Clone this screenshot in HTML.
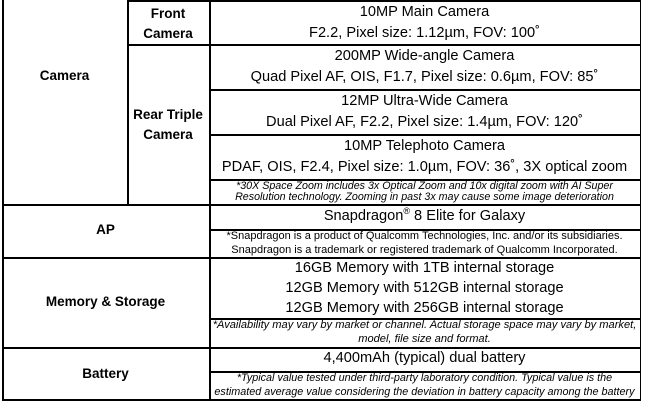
<!DOCTYPE html>
<html><head><meta charset="utf-8"><style>
body{margin:0;width:649px;height:409px;background:#fff;position:relative;overflow:hidden;font-family:"Liberation Sans",Arial,sans-serif;color:#000}
.h{position:absolute;height:1.5px;background:#000}
.v{position:absolute;width:1.5px;background:#000}
.t{position:absolute;text-align:center;white-space:nowrap}
.m{font-size:14.6px}
.b{font-size:13.5px;font-weight:bold}
.n{font-style:italic}
</style></head><body>
<div class="h" style="left:127px;top:0px;width:514px"></div>
<div class="h" style="left:127px;top:44px;width:514px"></div>
<div class="h" style="left:209px;top:89px;width:432px"></div>
<div class="h" style="left:209px;top:134px;width:432px"></div>
<div class="h" style="left:209px;top:179px;width:432px"></div>
<div class="h" style="left:2px;top:204px;width:639px"></div>
<div class="h" style="left:209px;top:229px;width:432px"></div>
<div class="h" style="left:2px;top:257px;width:639px"></div>
<div class="h" style="left:209px;top:318px;width:432px"></div>
<div class="h" style="left:2px;top:347px;width:639px"></div>
<div class="h" style="left:209px;top:371px;width:432px"></div>
<div class="h" style="left:2px;top:399px;width:639px"></div>
<div class="v" style="left:2px;top:0;height:400px"></div>
<div class="v" style="left:127px;top:0;height:205px"></div>
<div class="v" style="left:209px;top:0;height:400px"></div>
<div class="v" style="left:639.5px;top:0;height:400px"></div>
<div class="t b" style="left:2px;width:125px;top:68px">Camera</div>
<div class="t b" style="left:127px;width:82px;top:4px;line-height:20px">Front<br>Camera</div>
<div class="t b" style="left:127px;width:82px;top:105px;line-height:20px">Rear Triple<br>Camera</div>
<div class="t b" style="left:2px;width:207px;top:222px">AP</div>
<div class="t b" style="left:2px;width:207px;top:294px">Memory &amp; Storage</div>
<div class="t b" style="left:2px;width:207px;top:366px">Battery</div>
<div class="t m" style="left:209px;width:431px;top:2px;line-height:20.5px">10MP Main Camera<br>F2.2, Pixel size: 1.12µm, FOV: 100˚</div>
<div class="t m" style="left:209px;width:431px;top:46px;line-height:21px">200MP Wide-angle Camera<br>Quad Pixel AF, OIS, F1.7, Pixel size: 0.6µm, FOV: 85˚</div>
<div class="t m" style="left:209px;width:431px;top:91px;line-height:21px">12MP Ultra-Wide Camera<br>Dual Pixel AF, F2.2, Pixel size: 1.4µm, FOV: 120˚</div>
<div class="t m" style="left:209px;width:431px;top:136px;line-height:21px">10MP Telephoto Camera<br>PDAF, OIS, F2.4, Pixel size: 1.0µm, FOV: 36˚, 3X optical zoom</div>
<div class="t n" style="left:209px;width:431px;top:181px;line-height:11px;font-size:10.7px">*30X Space Zoom includes 3x Optical Zoom and 10x digital zoom with AI Super<br>Resolution technology. Zooming in past 3x may cause some image deterioration</div>
<div class="t m" style="left:209px;width:431px;top:206px">Snapdragon<sup style="font-size:9px">®</sup> 8 Elite for Galaxy</div>
<div class="t" style="left:209px;width:431px;top:230px;line-height:13.5px;font-size:11px">*Snapdragon is a product of Qualcomm Technologies, Inc. and/or its subsidiaries.<br>Snapdragon is a trademark or registered trademark of Qualcomm Incorporated.</div>
<div class="t m" style="left:209px;width:431px;top:258px;line-height:20px">16GB Memory with 1TB internal storage<br>12GB Memory with 512GB internal storage<br>12GB Memory with 256GB internal storage</div>
<div class="t n" style="left:209px;width:431px;top:319px;line-height:13.5px;font-size:11.1px">*Availability may vary by market or channel. Actual storage space may vary by market,<br>model, file size and format.</div>
<div class="t m" style="left:209px;width:431px;top:350px">4,400mAh (typical) dual battery</div>
<div class="t n" style="left:209px;width:431px;top:372px;line-height:13.5px;font-size:10.8px">*Typical value tested under third-party laboratory condition. Typical value is the<br>estimated average value considering the deviation in battery capacity among the battery</div>
</body></html>
